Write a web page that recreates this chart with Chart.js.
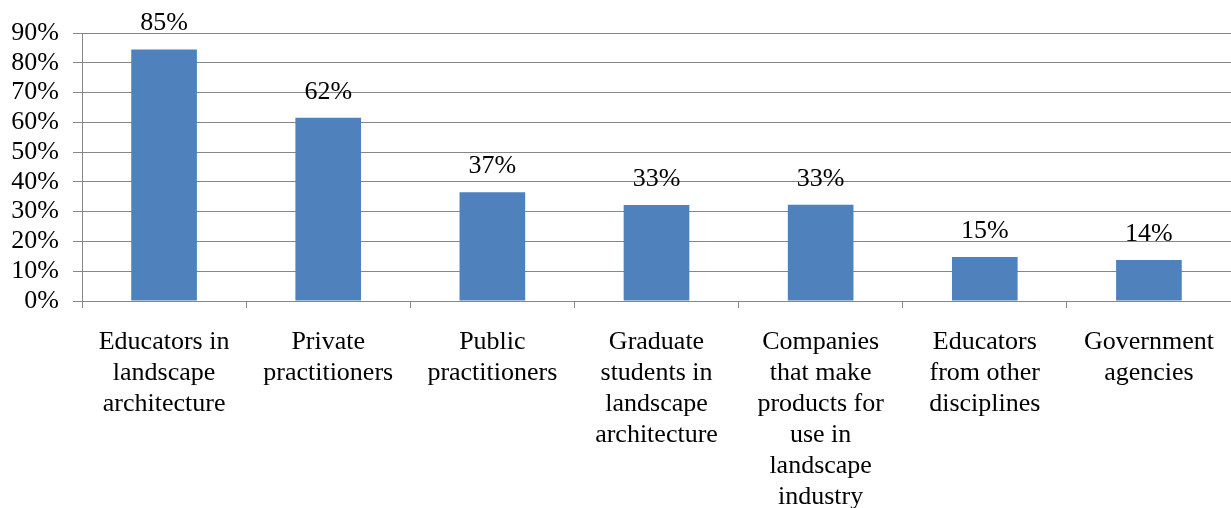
<!DOCTYPE html>
<html>
<head>
<meta charset="utf-8">
<script src="https://cdn.jsdelivr.net/npm/chart.js@4.4.0/dist/chart.umd.min.js"></script>
<style>
  html, body { margin: 0; padding: 0; background: #ffffff; }
  #wrap { position: relative; width: 1231px; height: 508px; }
</style>
</head>
<body>
<div id="wrap"><canvas id="chart"></canvas></div>
<script>
const categories = [
  ["Educators in", "landscape", "architecture"],
  ["Private", "practitioners"],
  ["Public", "practitioners"],
  ["Graduate", "students in", "landscape", "architecture"],
  ["Companies", "that make", "products for", "use in", "landscape", "industry"],
  ["Educators", "from other", "disciplines"],
  ["Government", "agencies"]
];
const values = [84.5, 61.5, 36.5, 32.2, 32.3, 14.8, 13.8];
const valueLabels = ["85%", "62%", "37%", "33%", "33%", "15%", "14%"];
const yTicks = [0, 10, 20, 30, 40, 50, 60, 70, 80, 90];

const SERIF = "'Liberation Serif', 'Times New Roman', serif";
const GRID = "#878787";

const valueLabelPlugin = {
  id: "valueLabels",
  afterDatasetsDraw(chart) {
    const ctx = chart.ctx;
    const meta = chart.getDatasetMeta(0);
    ctx.save();
    ctx.font = "26px " + SERIF;
    ctx.fillStyle = "#000000";
    ctx.textAlign = "center";
    ctx.textBaseline = "alphabetic";
    meta.data.forEach((bar, i) => {
      ctx.fillText(valueLabels[i], bar.x, bar.y - 19);
    });
    ctx.restore();
  }
};

new Chart(document.getElementById("chart"), {
  type: "bar",
  data: {
    labels: categories,
    datasets: [{
      data: values,
      backgroundColor: "#4F81BD",
      borderWidth: 0,
      barPercentage: 0.4,
      categoryPercentage: 1.0
    }]
  },
  options: {
    responsive: true,
    maintainAspectRatio: false,
    animation: false,
    layout: { padding: { top: 33, right: 0, bottom: 0, left: 0 } },
    plugins: { legend: { display: false }, tooltip: { enabled: false } },
    scales: {
      x: {
        offset: true,
        grid: { display: true, drawOnChartArea: false, drawTicks: true, tickLength: 7, color: GRID, offset: true },
        border: { display: true, color: GRID, width: 1 },
        ticks: {
          color: "#000000",
          font: { family: SERIF, size: 26, lineHeight: 1.19 },
          padding: 19,
          maxRotation: 0,
          minRotation: 0,
          autoSkip: false
        },
        afterFit(scale) {
          scale.height = 207;
          scale.paddingLeft = 0;
          scale.paddingRight = 0;
        }
      },
      y: {
        min: 0,
        max: 90,
        afterBuildTicks(scale) { scale.ticks = yTicks.map(v => ({ value: v })); },
        grid: { color: GRID, lineWidth: 1, drawTicks: true, tickLength: 9 },
        border: { display: true, color: GRID, width: 1 },
        ticks: {
          color: "#000000",
          font: { family: SERIF, size: 26, lineHeight: 1.0 },
          padding: 14,
          autoSkip: false,
          callback: v => v + "%"
        },
        afterFit(scale) { scale.width = 82; }
      }
    }
  },
  plugins: [valueLabelPlugin]
});
</script>
</body>
</html>
